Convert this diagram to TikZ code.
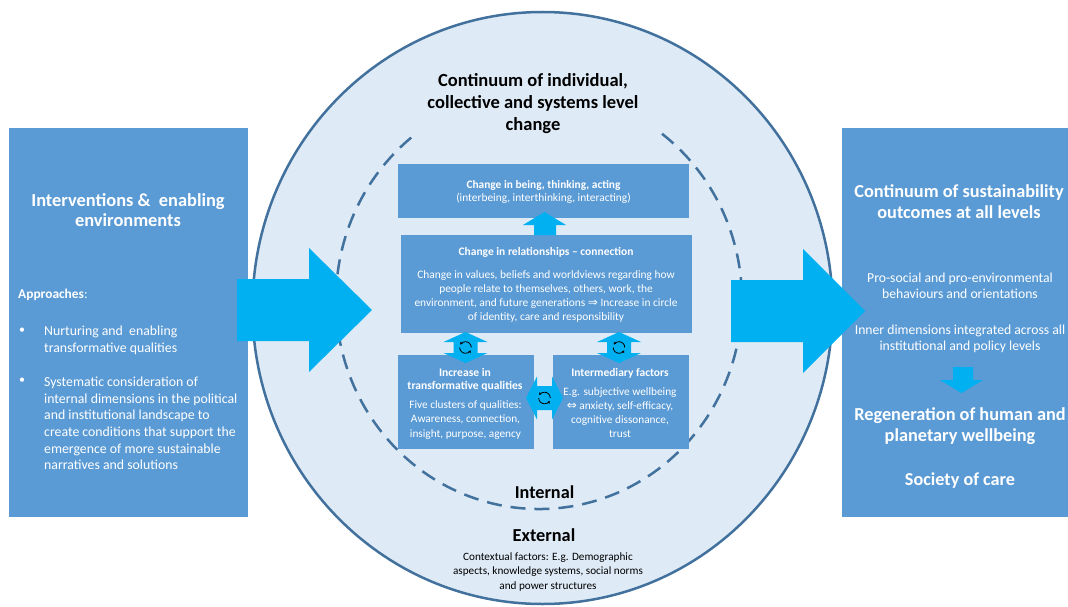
\documentclass[tikz,border=0pt]{standalone}
\usepackage{fontspec}
\setmainfont{Carlito}
\newfontfamily\symfont{DejaVu Sans}
\usetikzlibrary{arrows.meta}
\definecolor{boxblue}{HTML}{5B9BD5}
\definecolor{arrowcyan}{HTML}{00B0F0}
\definecolor{circfill}{HTML}{DEEAF6}
\definecolor{circline}{HTML}{41719C}
\newcommand\myfs[2]{\fontsize{#1}{#2}\selectfont}
\begin{document}
\begin{tikzpicture}[x=1pt,y=-1pt,
  panel/.style={fill=boxblue, inner sep=0pt, outer sep=0pt, anchor=north west},
  blockarrow/.style={fill=arrowcyan, draw=none},
  wtxt/.style={text=white, align=center, inner sep=0pt},
  btxt/.style={text=black, align=center, inner sep=0pt},
  cycleicon/.style={line width=0.8pt, -{Stealth[length=2.6pt,width=3pt]}}
]
\useasboundingbox (0,0) rectangle (1068,607);

% outer circle
\draw[fill=circfill, draw=circline, line width=2.5pt] (542.5,308) ellipse [x radius=290pt, y radius=296pt];
% dashed inner ellipse (open at top)
\draw[draw=circline, line width=2.5pt, dash pattern=on 15pt off 9pt]
  (411.2,137.6) arc [start angle=129, end angle=413, x radius=203pt, y radius=209pt];

% side panels
\node[panel, minimum width=239pt, minimum height=389pt] (left) at (9,128) {};
\node[panel, minimum width=226pt, minimum height=389pt] (right) at (842,128) {};

% inner boxes
\node[panel, minimum width=291pt, minimum height=54pt] (b1) at (398,164) {};
\node[panel, minimum width=291pt, minimum height=98pt] (b2) at (401,235) {};
\node[panel, minimum width=136pt, minimum height=94pt] (b3) at (398,355) {};
\node[panel, minimum width=136pt, minimum height=94pt] (b4) at (553,355) {};

% big arrows
\fill[blockarrow] (237,279) -- (309,279) -- (309,248) -- (372,310) -- (309,372) -- (309,341) -- (237,341) -- cycle;
\fill[blockarrow] (731,280) -- (803,280) -- (803,249) -- (865,311) -- (803,373) -- (803,342) -- (731,342) -- cycle;
% up arrow b2 -> b1
\fill[blockarrow] (534,235) -- (534,225) -- (523,225) -- (544.5,212) -- (566,225) -- (556,225) -- (556,235) -- cycle;
% down arrow right panel
\fill[blockarrow] (953,367) -- (973,367) -- (973,380) -- (983,380) -- (961.5,393) -- (940,380) -- (953,380) -- cycle;
% vertical double arrows
\foreach \cx/\nm in {465.5/vl, 619/vr}{
  \fill[blockarrow] (\cx,332) -- (\cx+22,342) -- (\cx+12,342) -- (\cx+12,353) -- (\cx+22,353) -- (\cx,363)
    -- (\cx-22,353) -- (\cx-12,353) -- (\cx-12,342) -- (\cx-22,342) -- cycle;
  \coordinate (\nm) at (\cx,347.5);
}
% horizontal double arrow
\fill[blockarrow] (526,398) -- (537,376.5) -- (537,386) -- (552,386) -- (552,376.5) -- (563,398)
  -- (552,419.5) -- (552,410) -- (537,410) -- (537,419.5) -- cycle;
\coordinate (hm) at (544.5,398);
% cycle icons
\foreach \c in {vl, vr, hm}{
  \draw[cycleicon] ([shift={(5.8pt,0pt)}]\c) arc [start angle=0, end angle=150, radius=5.8pt];
  \draw[cycleicon] ([shift={(-5.8pt,0pt)}]\c) arc [start angle=180, end angle=330, radius=5.8pt];
}

% texts in left panel
\node[wtxt, font=\myfs{18.4}{20}\bfseries] (lt) at (128,210) {Interventions \&\ \ enabling\\environments};
\node[wtxt, anchor=west, font=\myfs{13.4}{14}] (ap) at (18,295) {\textbf{Approaches}:};
\node[wtxt, anchor=west, font=\myfs{12}{14}] (bu1) at (19,331) {•};
\node[wtxt, anchor=west, font=\myfs{12}{14}] (bu2) at (19,381) {•};
\node[wtxt, anchor=west, align=left, font=\myfs{13.8}{16.8}] (t1) at (44,340.5) {Nurturing and\ \ enabling\\transformative qualities};
\node[wtxt, anchor=west, align=left, font=\myfs{13.8}{16.6}] (t2) at (44,423.5) {Systematic consideration of\\internal dimensions in the political\\and institutional landscape to\\create conditions that support the\\emergence of more sustainable\\narratives and solutions};

% texts in right panel
\node[wtxt, font=\myfs{18.3}{21}\bfseries] (rt) at (959,201.5) {Continuum of sustainability\\outcomes at all levels};
\node[wtxt, font=\myfs{13.7}{16.5}] (rp) at (960,286) {Pro-social and pro-environmental\\behaviours and orientations};
\node[wtxt, font=\myfs{13.7}{16.5}] (ri) at (960,339) {Inner dimensions integrated across all\\institutional and policy levels};
\node[wtxt, font=\myfs{18.3}{20.5}\bfseries] (rr) at (960,426) {Regeneration of human and\\planetary wellbeing};
\node[wtxt, font=\myfs{18.2}{20}\bfseries] (rs) at (960,481) {Society of care};

% circle title
\node[btxt, font=\myfs{18.5}{22}\bfseries] (ct) at (533,104) {Continuum of individual,\\collective and systems level\\change};

% inner box texts
\node[wtxt, font=\myfs{11.4}{12.5}] (b1t) at (543.5,192) {\textbf{Change in being, thinking, acting}\\(interbeing, interthinking, interacting)};
\node[wtxt, font=\myfs{11.5}{13}\bfseries] (b2h) at (546,252) {Change in relationships – connection};
\node[wtxt, font=\myfs{11.4}{14.3}] (b2t) at (546,296.5) {Change in values, beliefs and worldviews regarding how\\people relate to themselves, others, work, the\\environment, and future generations {\symfont\myfs{12}{14.3}⇒} Increase in circle\\of identity, care and responsibility};
\node[wtxt, font=\myfs{11.6}{13}\bfseries] (b3h) at (465,379.5) {Increase in\\transformative qualities};
\node[wtxt, font=\myfs{11.3}{14.5}] (b3t) at (465.5,420) {Five clusters of qualities:\\Awareness, connection,\\insight, purpose, agency};
\node[wtxt, font=\myfs{11.5}{13}\bfseries] (b4h) at (620,373) {Intermediary factors};
\node[wtxt, font=\myfs{11.3}{14}] (b4t) at (620,413) {E.g. subjective wellbeing\\{\symfont\myfs{12}{14}⇔} anxiety, self-efficacy,\\cognitive dissonance,\\trust};

% bottom texts
\node[btxt, font=\myfs{18.2}{20}\bfseries] (int) at (544.5,492) {Internal};
\node[btxt, font=\myfs{18.3}{20}\bfseries] (ext) at (544,535) {External};
\node[btxt, font=\myfs{11.2}{14.7}] (ctx) at (548,572) {Contextual factors: E.g. Demographic\\aspects, knowledge systems, social norms\\and power structures};
\end{tikzpicture}
\end{document}
